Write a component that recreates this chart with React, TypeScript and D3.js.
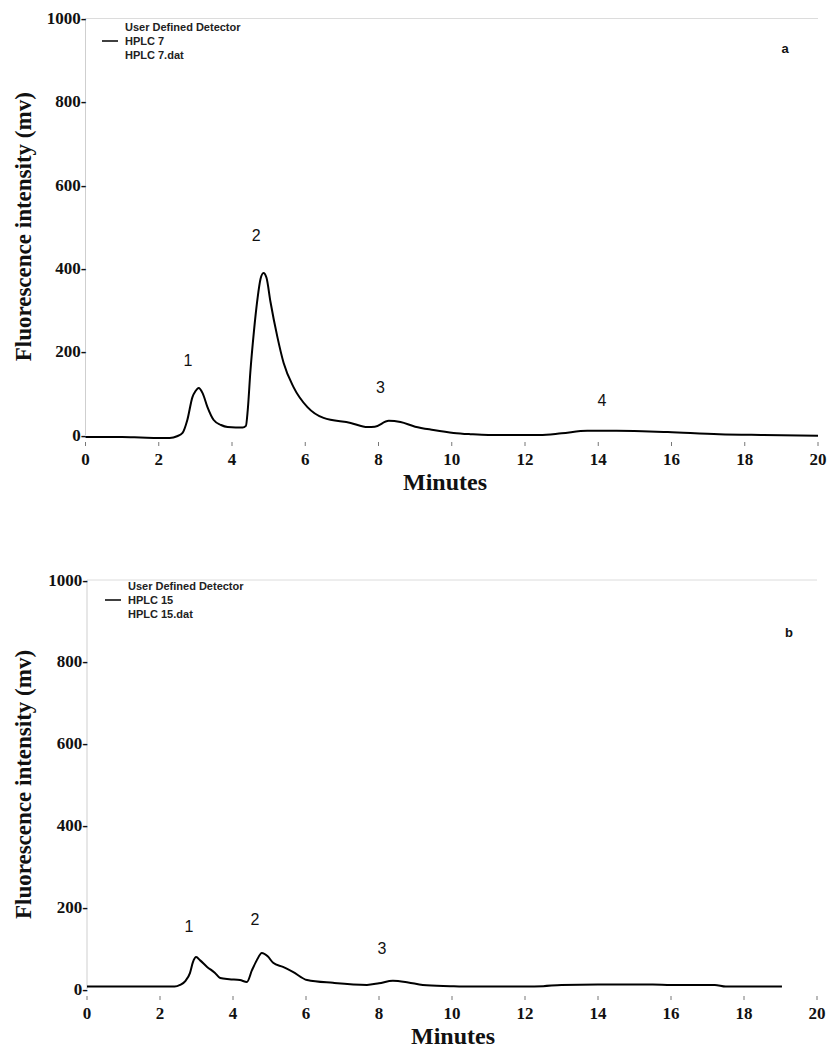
import React from "react";
import * as d3 from "d3";

// ---- data ----
const xTicks = [0, 2, 4, 6, 8, 10, 12, 14, 16, 18, 20];
const yTicks = [0, 200, 400, 600, 800, 1000];

const timesA = [0, 1.0, 1.5, 2.0, 2.3, 2.5, 2.65, 2.78, 2.92, 3.0, 3.09, 3.2, 3.33, 3.5, 3.7, 3.88, 4.1, 4.29, 4.38, 4.43, 4.5, 4.6, 4.7, 4.78, 4.86, 4.94, 5.05, 5.24, 5.41, 5.68, 6.06, 6.5, 7.24, 7.7, 7.9, 8.28, 8.6, 9.0, 9.5, 10.05, 10.5, 11, 12, 12.4, 13, 13.7, 14.5, 15.2, 15.9, 17.3, 18.5, 20];
const valuesA = [-5, -5, -6, -7, -7, -3, 5, 36, 91, 105, 113, 100, 67, 36, 24, 19, 18, 18, 22, 60, 150, 250, 330, 375, 389, 378, 320, 235, 173, 115, 67, 41, 29, 19, 20, 34, 31, 20, 12, 5, 2, 0, 0, 0, 4, 10, 10, 9, 7, 2, 0, -2];

const timesB = [0, 2.4, 2.55, 2.7, 2.82, 2.9, 2.99, 3.1, 3.29, 3.5, 3.65, 3.9, 4.19, 4.38, 4.52, 4.65, 4.79, 4.95, 5.1, 5.37, 5.64, 6.03, 6.74, 7.67, 8.0, 8.38, 8.8, 9.2, 9.95, 10.3, 12, 12.5, 13, 14, 15.5, 16, 17.2, 17.5, 19.04];
const valuesB = [6, 6, 10, 20, 39, 65, 78, 70, 54, 40, 27, 24, 22, 17, 46, 70, 88, 80, 64, 54, 42, 22, 15, 10, 14, 20, 16, 10, 7, 6, 6, 7, 10, 11, 11, 10, 10, 6, 6];

const peakLabelsA = ["1", "2", "3", "4"];
const peakTimesA = [2.8, 4.66, 8.05, 14.1];
const peakValsA = [180, 480, 113, 84];

const peakLabelsB = ["1", "2", "3"];
const peakTimesB = [2.79, 4.6, 8.08];
const peakValsB = [152, 169, 100];

const legendA = ["User Defined Detector", "HPLC  7", "HPLC  7.dat"];
const legendB = ["User Defined Detector", "HPLC  15", "HPLC  15.dat"];

const serif = "'Liberation Serif', 'Times New Roman', serif";
const sans = "'Liberation Sans', Arial, sans-serif";

type PanelProps = {
  times: number[];
  values: number[];
  x0: number;
  x1: number;
  y0: number; // pixel of 0
  y1: number; // pixel of 1000
  labels: string[];
  lTimes: number[];
  lVals: number[];
  legend: string[];
  legendX: number;
  legendY: number;
  letter: string;
  letterX: number;
  letterY: number;
  minutesX: number;
  minutesY: number;
};

function Panel(p: PanelProps) {
  const x = d3.scaleLinear().domain([0, 20]).range([p.x0, p.x1]);
  const y = d3.scaleLinear().domain([0, 1000]).range([p.y0, p.y1]);
  const pts: [number, number][] = p.times.map((t, i) => [t, p.values[i]]);
  const line = d3
    .line<[number, number]>()
    .x((d) => x(d[0]))
    .y((d) => y(d[1]))
    .curve(d3.curveMonotoneX);
  const midY = (p.y0 + p.y1) / 2;
  return (
    <g>
      <line x1={p.x0} x2={p.x1} y1={p.y1} y2={p.y1} stroke="#dcdcdc" strokeWidth={1} />
      <line x1={p.x0} x2={p.x0} y1={p.y1} y2={p.y0} stroke="#cfcfcf" strokeWidth={1} />
      {yTicks.map((v) => (
        <text
          key={"y" + v}
          x={p.x0 + 1}
          y={y(v)}
          textAnchor="end"
          dominantBaseline="central"
          fontFamily={serif}
          fontWeight="bold"
          fontSize={17}
          fill="#111"
        >
          {v + "-"}
        </text>
      ))}
      {xTicks.map((v) => (
        <g key={"x" + v}>
          <line x1={x(v)} x2={x(v)} y1={p.y0 + 7} y2={p.y0 + 11} stroke="#777" strokeWidth={1} />
          <text
            x={x(v)}
            y={p.y0 + 24}
            textAnchor="middle"
            dominantBaseline="central"
            fontFamily={serif}
            fontWeight="bold"
            fontSize={17}
            fill="#111"
          >
            {v}
          </text>
        </g>
      ))}
      <text
        x={p.minutesX}
        y={p.minutesY}
        textAnchor="middle"
        fontFamily={serif}
        fontWeight="bold"
        fontSize={24}
        fill="#111"
      >
        Minutes
      </text>
      <text
        transform={`translate(23,${midY}) rotate(-90)`}
        textAnchor="middle"
        dominantBaseline="central"
        fontFamily={serif}
        fontWeight="bold"
        fontSize={23}
        fill="#111"
      >
        Fluorescence intensity (mv)
      </text>
      <path d={line(pts) || ""} fill="none" stroke="#000" strokeWidth={2} strokeLinejoin="round" />
      {p.labels.map((l, i) => (
        <text
          key={"p" + i}
          x={x(p.lTimes[i])}
          y={y(p.lVals[i])}
          textAnchor="middle"
          dominantBaseline="central"
          fontFamily={sans}
          fontSize={16}
          fill="#111"
        >
          {l}
        </text>
      ))}
      <g fontFamily={sans} fontWeight="bold" fontSize={11} fill="#222">
        <text x={p.legendX} y={p.legendY} dominantBaseline="central">
          {p.legend[0]}
        </text>
        <line
          x1={p.legendX - 23}
          x2={p.legendX - 7}
          y1={p.legendY + 14}
          y2={p.legendY + 14}
          stroke="#000"
          strokeWidth={1.5}
        />
        <text x={p.legendX} y={p.legendY + 14} dominantBaseline="central">
          {p.legend[1]}
        </text>
        <text x={p.legendX} y={p.legendY + 28} dominantBaseline="central">
          {p.legend[2]}
        </text>
      </g>
      <text
        x={p.letterX}
        y={p.letterY}
        textAnchor="middle"
        dominantBaseline="central"
        fontFamily={sans}
        fontWeight="bold"
        fontSize={13}
        fill="#111"
      >
        {p.letter}
      </text>
    </g>
  );
}

export default function App() {
  return (
    <svg
      width={831}
      height={1050}
      viewBox="0 0 831 1050"
      style={{ position: "absolute", left: 0, top: 0, background: "#fff" }}
    >
      <rect width={831} height={1050} fill="#fff" />
      <Panel
        times={timesA}
        values={valuesA}
        x0={85.5}
        x1={818}
        y0={435}
        y1={18.5}
        labels={peakLabelsA}
        lTimes={peakTimesA}
        lVals={peakValsA}
        legend={legendA}
        legendX={125}
        legendY={27}
        letter="a"
        letterX={785}
        letterY={48}
        minutesX={445}
        minutesY={490}
      />
      <Panel
        times={timesB}
        values={valuesB}
        x0={87}
        x1={817}
        y0={989}
        y1={580}
        labels={peakLabelsB}
        lTimes={peakTimesB}
        lVals={peakValsB}
        legend={legendB}
        legendX={128}
        legendY={586}
        letter="b"
        letterX={789}
        letterY={632}
        minutesX={453}
        minutesY={1044}
      />
    </svg>
  );
}
